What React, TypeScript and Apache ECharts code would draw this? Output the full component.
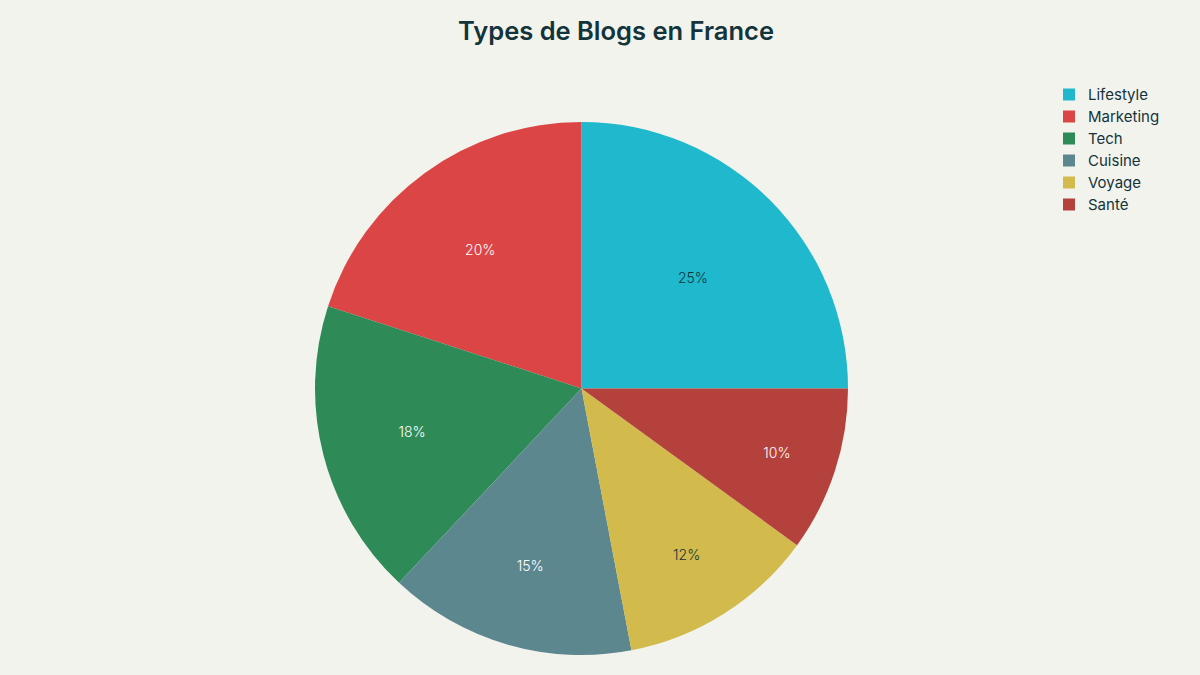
import React, { useEffect, useRef } from "react";
import * as echarts from "echarts";

const categories = ["Lifestyle", "Marketing", "Tech", "Cuisine", "Voyage", "Santé"];
const values = [25, 20, 18, 15, 12, 10];
const colors = ["#1FB8CD", "#DB4545", "#2E8B57", "#5D878F", "#D2BA4C", "#B4413C"];
const labelColors = ["#13343B", "#FFFFFF", "#FFFFFF", "#FFFFFF", "#13343B", "#FFFFFF"];
const labelRadialFrac = [0.58, 0.635, 0.645, 0.68, 0.725, 0.76];

const CX = 581.5;
const CY = 388.5;
const R = 266.5;

export default function App() {
  const ref = useRef<HTMLDivElement>(null);
  useEffect(() => {
    document.body.style.margin = "0";
    const chart = echarts.init(ref.current!, null, { renderer: "svg" });
    const total = values.reduce((a, b) => a + b, 0);
    let cum = 0;
    const data = categories.map((name, i) => {
      const start = (cum / total) * 360;
      cum += values[i];
      const end = (cum / total) * 360;
      const mid = ((start + end) / 2) * Math.PI / 180;
      const d = (labelRadialFrac[i] - 0.5) * R;
      return {
        name,
        value: values[i],
        itemStyle: { color: colors[i] },
        label: {
          color: labelColors[i],
          offset: [d * Math.cos(mid), -d * Math.sin(mid)],
        },
      };
    });
    chart.setOption({
      animation: false,
      backgroundColor: "#F3F3EE",
      textStyle: { fontFamily: "Inter, 'Open Sans', sans-serif" },
      title: {
        text: "Types de Blogs en France",
        left: 611,
        top: 12,
        textAlign: "center",
        textStyle: { fontSize: 25.5, fontWeight: 600, color: "#13343B", fontFamily: "Inter, sans-serif" },
      },
      legend: {
        orient: "vertical",
        left: 1058,
        top: 82,
        itemWidth: 12,
        itemHeight: 12,
        itemGap: 7,
        icon: "rect",
        textStyle: { fontSize: 15, color: "#13343B", padding: [0, 0, 0, 8] },
        data: categories,
      },
      series: [
        {
          type: "pie",
          center: [CX, CY],
          radius: [0, R],
          startAngle: 0,
          clockwise: false,
          avoidLabelOverlap: false,
          label: {
            show: true,
            position: "inside",
            formatter: "{d}%",
            fontSize: 14,
            fontWeight: 300,
          },
          labelLine: { show: false },
          itemStyle: { borderWidth: 0 },
          emphasis: { disabled: true },
          data,
        },
      ],
    });
    return () => chart.dispose();
  }, []);
  return <div ref={ref} style={{ width: 1200, height: 675 }} />;
}
